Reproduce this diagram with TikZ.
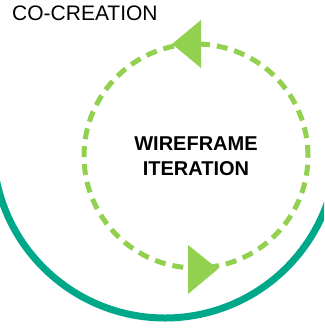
\documentclass[tikz,border=0pt]{standalone}
\usepackage{fontspec}
\setmainfont{Liberation Sans}
\definecolor{teal}{HTML}{00A88A}
\definecolor{leaf}{HTML}{92D050}
\begin{document}
\begin{tikzpicture}
    [x=1pt,y=1pt,
     ring/.style={draw=teal,line width=7pt},
     loop/.style={draw=leaf,line width=5pt,dash pattern=on 11pt off 7pt},
     head/.style={fill=leaf}]
    \useasboundingbox (0,0) rectangle (324,329);
    \clip (0,0) rectangle (324,329);
    \coordinate (outer) at (165,183);
    \coordinate (inner) at (196,173);
    \draw [ring] (outer) ++(186:172) arc [start angle=186,end angle=346,radius=172];
    \draw [loop] (inner) circle (112);
    % arrow heads on the loop
    \fill [head] (172,285) -- (201,309) -- (201,261) -- cycle;
    \fill [head] (218,60) -- (188,84) -- (188,35) -- cycle;
    \node (title) [anchor=base west,inner sep=0pt,font=\fontsize{21}{25}\selectfont]
      at (12,308) {CO-CREATION};
    \node (step) [align=center,inner sep=0pt,font=\fontsize{20}{25}\selectfont\bfseries]
      at (inner) {WIREFRAME\\ITERATION};
  \end{tikzpicture}
\end{document}
